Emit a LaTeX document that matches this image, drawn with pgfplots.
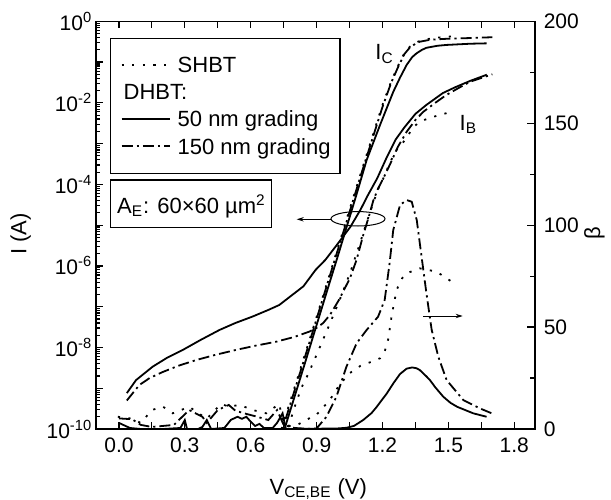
\documentclass[border=0pt]{standalone}
\usepackage{fontspec}
\setmainfont{Liberation Sans}
\usepackage{pgfplots}
\pgfplotsset{compat=1.18}
\usetikzlibrary{arrows.meta}
\xdef\minorlist{2e-10}
\foreach \e in {-10,...,-1}{\foreach \m in {2,...,9}{\xdef\minorlist{\minorlist,\m e\e}}}
\tikzset{
  dotsty/.style={line width=0.9pt, dash pattern=on 1.1pt off 4.2pt},
  ddsty/.style={line width=0.9pt, dash pattern=on 5.5pt off 2pt on 1.1pt off 2pt},
  solsty/.style={line width=0.9pt}
}
\begin{document}
\begin{tikzpicture}[font=\fontsize{11}{13}\selectfont]
\useasboundingbox (-48.15pt,-35pt) rectangle (257.35pt,214.5pt);
\begin{axis}[
  at={(0,0)}, anchor=south west,
  scale only axis, width=219.2pt, height=203.85pt,
  xmin=-0.103, xmax=1.893,
  ymode=log, ymin=1e-10, ymax=1,
  xtick={0,0.15,0.3,0.45,0.6,0.75,0.9,1.05,1.2,1.35,1.5,1.65,1.8},
  xticklabels={0.0,,0.3,,0.6,,0.9,,1.2,,1.5,,1.8},
  ytick={1e-10,1e-9,1e-8,1e-7,1e-6,1e-5,1e-4,1e-3,1e-2,1e-1,1},
  yticklabels={10\textsuperscript{-10},,10\textsuperscript{-8},,10\textsuperscript{-6},,10\textsuperscript{-4},,10\textsuperscript{-2},,10\textsuperscript{0}},
  minor ytick/.expand once=\minorlist,
  ytick pos=left,
  tick align=inside,
  major tick length=3.5pt, minor tick length=2pt,
  every tick/.style={black, line width=0.6pt},
  axis line style={line width=0.8pt},
  tick label style={font=\fontsize{10.5}{12}\selectfont},
  xticklabel style={yshift=-1pt},
  yticklabel style={xshift=1.5pt},
]
% SHBT I_C
\addplot[dotsty] coordinates {(0.725,5.62e-11)(0.74,1e-10)(0.80,1.05e-9)(0.85,7.59e-9)(0.90,5.62e-8)(0.95,4.17e-7)(1.0,3.16e-6)(1.05,2.40e-5)(1.10,1.78e-4)(1.15,1.26e-3)(1.20,8.91e-3)(1.24,3.39e-2)(1.272,8.32e-2)(1.30,0.166)(1.325,0.240)(1.35,0.295)(1.37,0.331)(1.42,0.380)(1.47,0.407)(1.52,0.427)};
% SHBT I_B
\addplot[dotsty] coordinates {(0.76,6.31e-11)(0.794,2.82e-10)(0.83,1e-9)(0.862,2.24e-9)(0.90,6.61e-9)(0.93,1.585e-8)(0.96,3.80e-8)(1.006,1.51e-7)(1.052,6.61e-7)(1.097,3.55e-6)(1.13,1.26e-5)(1.158,3.55e-5)(1.18,7.59e-5)(1.204,1.41e-4)(1.235,3.55e-4)(1.265,7.08e-4)(1.29,1e-3)(1.31,1.41e-3)(1.34,2.51e-3)(1.37,3.47e-3)(1.40,3.98e-3)(1.446,4.79e-3)(1.50,5.75e-3)};
% 50 nm I_C
\addplot[solsty] coordinates {(0.74,5.62e-11)(0.754,1e-10)(0.80,6.31e-10)(0.85,4.68e-9)(0.90,3.55e-8)(0.95,2.69e-7)(1.0,2.00e-6)(1.037,9.12e-6)(1.08,5.25e-5)(1.128,3.98e-4)(1.189,2.88e-3)(1.249,1.86e-2)(1.28,4.17e-2)(1.31,8.51e-2)(1.335,0.132)(1.355,0.164)(1.38,0.200)(1.40,0.224)(1.45,0.251)(1.49,0.263)(1.60,0.282)(1.674,0.288)};
% 50 nm I_B
\addplot[solsty] coordinates {(0.036,7.59e-10)(0.078,1.585e-9)(0.154,3.39e-9)(0.22,5.62e-9)(0.291,8.71e-9)(0.37,1.51e-8)(0.458,2.69e-8)(0.53,3.98e-8)(0.607,5.69e-8)(0.68,8.32e-8)(0.73,1.10e-7)(0.78,1.78e-7)(0.84,3.16e-7)(0.895,7.94e-7)(0.94,1.41e-6)(0.99,3.16e-6)(1.054,9.12e-6)(1.10,2.40e-5)(1.13,5.01e-5)(1.176,1.41e-4)(1.22,4.68e-4)(1.26,1.26e-3)(1.30,2.51e-3)(1.35,5.37e-3)(1.40,8.91e-3)(1.475,1.74e-2)(1.53,2.40e-2)(1.60,3.47e-2)(1.675,4.90e-2)};
% 150 nm I_C
\addplot[ddsty] coordinates {(0.73,5.62e-11)(0.745,1e-10)(0.80,8.91e-10)(0.85,6.61e-9)(0.90,5.01e-8)(0.95,3.80e-7)(1.0,2.82e-6)(1.05,2.09e-5)(1.10,1.585e-4)(1.15,1.12e-3)(1.20,7.94e-3)(1.24,3.16e-2)(1.272,7.76e-2)(1.30,0.158)(1.325,0.229)(1.35,0.282)(1.37,0.316)(1.42,0.355)(1.49,0.372)(1.60,0.389)(1.70,0.407)};
% 150 nm I_B
\addplot[ddsty] coordinates {(0.036,5.01e-10)(0.093,1.20e-9)(0.14,1.78e-9)(0.20,2.51e-9)(0.27,3.55e-9)(0.351,4.90e-9)(0.44,6.61e-9)(0.533,8.71e-9)(0.62,1.10e-8)(0.715,1.38e-8)(0.80,1.82e-8)(0.867,2.45e-8)(0.90,3.02e-8)(0.93,3.98e-8)(0.961,6.31e-8)(1.0,1.41e-7)(1.052,5.01e-7)(1.082,1.41e-6)(1.112,5.62e-6)(1.14,1.78e-5)(1.158,3.98e-5)(1.18,7.94e-5)(1.204,1.41e-4)(1.235,3.16e-4)(1.27,8.32e-4)(1.31,1.95e-3)(1.35,3.80e-3)(1.386,6.03e-3)(1.44,1e-2)(1.49,1.55e-2)(1.545,2.29e-2)(1.60,3.31e-2)(1.65,4.07e-2)(1.70,5.01e-2)};
\end{axis}
\begin{axis}[
  at={(0,0)}, anchor=south west,
  scale only axis, width=219.2pt, height=203.85pt,
  xmin=-0.103, xmax=1.893,
  ymin=0, ymax=200,
  axis x line=none, axis y line*=right,
  ytick={0,50,100,150,200},
  yticklabels={0,50,100,150,200},
  minor ytick={25,75,125,175},
  tick align=inside,
  major tick length=4pt, minor tick length=2.5pt,
  every tick/.style={black, line width=0.6pt},
  axis line style={line width=0.8pt},
  tick label style={font=\fontsize{10.5}{12}\selectfont},
  yticklabel style={xshift=1pt},
]
% SHBT beta
\addplot[dotsty] coordinates {(-0.005,6)(0.05,5.2)(0.10,3)(0.15,9.3)(0.20,11)(0.245,7.7)(0.32,10.9)(0.40,5)(0.465,12.3)(0.50,11)(0.55,11.8)(0.61,9.3)(0.67,7.7)(0.73,12.3)(0.745,4.4)(0.77,1.5)(0.80,1.5)(0.85,4)(0.87,5.5)(0.90,7)(0.96,14.2)(1.006,22)(1.052,27.5)(1.10,31)(1.15,33)(1.189,34.7)(1.21,38)(1.226,44)(1.241,55)(1.264,68.2)(1.29,74)(1.31,76.4)(1.37,78.8)(1.446,77.2)(1.515,72.3)};
% 50 nm beta
\addplot[solsty] coordinates {(0.0,3.0)(0.02,2.0)(0.05,0.5)(0.1,0)(0.2,0)(0.28,0.5)(0.30,4.4)(0.31,0)(0.36,0)(0.38,1)(0.40,4.4)(0.42,0)(0.48,0.5)(0.51,4.5)(0.54,6)(0.56,5)(0.58,6)(0.60,3.6)(0.62,1.5)(0.64,2.5)(0.66,0.5)(0.70,0.5)(0.72,3)(0.745,7.7)(0.76,0)(0.85,0.1)(0.95,0.2)(1.0,0.3)(1.036,0.6)(1.07,1.5)(1.112,4.4)(1.15,7.8)(1.174,10.9)(1.22,17.5)(1.25,22.5)(1.28,27)(1.31,29.6)(1.335,30.2)(1.355,29.8)(1.37,28.9)(1.40,25.8)(1.416,24)(1.44,20.5)(1.477,15.8)(1.51,12.8)(1.54,10.9)(1.613,7.7)(1.674,6)};
% 150 nm beta
\addplot[ddsty] coordinates {(0.0,5.2)(0.06,4.8)(0.1,2)(0.15,1)(0.25,2)(0.32,9.3)(0.38,6)(0.40,3)(0.45,9.3)(0.50,11.8)(0.53,9)(0.57,7.7)(0.63,6)(0.68,4.4)(0.72,9.3)(0.75,2)(0.80,0.5)(0.86,0.1)(0.90,0.3)(0.945,6)(0.99,15.8)(1.036,30.6)(1.082,42)(1.128,48.6)(1.18,55.1)(1.21,63.3)(1.232,81)(1.249,97.6)(1.28,109.9)(1.31,112.3)(1.333,111.5)(1.356,102.5)(1.378,84.5)(1.40,66.6)(1.424,48.6)(1.454,35.5)(1.492,24)(1.568,14.2)(1.644,10.1)(1.697,7.7)};
\end{axis}
% axis titles
\node[rotate=90, anchor=base] at (-34.9pt,97.5pt) {I (A)};
\node[rotate=90, anchor=base] at (251.85pt,98pt) {β};
\node[anchor=base] at (111pt,-32.5pt) {V\textsubscript{CE,BE} (V)};
% legend
\draw[line width=0.6pt] (7.2pt,127.85pt) rectangle (121.85pt,195.35pt);
\draw[dotsty] (12.7pt,182.15pt) -- (36.85pt,182.15pt);
\node[anchor=base west, inner sep=0] at (40.5pt,178.15pt) {SHBT};
\node[anchor=base west, inner sep=0] at (13.5pt,164.85pt) {DHBT:};
\draw[solsty] (12.7pt,155pt) -- (36.85pt,155pt);
\node[anchor=base west, inner sep=0] at (40.5pt,151.15pt) {50 nm grading};
\draw[ddsty] (12.7pt,141.65pt) -- (36.85pt,141.65pt);
\node[anchor=base west, inner sep=0] at (40.5pt,137.5pt) {150 nm grading};
% emitter area box
\draw[line width=0.6pt] (7.2pt,100.85pt) rectangle (87.7pt,124.5pt);
\node[anchor=base west, inner sep=0] at (10.2pt,107.85pt) {A\textsubscript{E}: 60×60 µm\textsuperscript{2}};
% annotations
\draw[line width=0.5pt] (130.85pt,105.1pt) ellipse [x radius=13.5pt, y radius=3.6pt];
\draw[line width=0.5pt, -{Stealth[length=3.5pt,width=2.2pt]}] (117.35pt,104.85pt) -- (100.2pt,104.85pt);
\draw[line width=0.5pt, -{Stealth[length=3.5pt,width=2.2pt]}] (163.5pt,56.5pt) -- (183.2pt,56.5pt);
\node[anchor=base west, inner sep=0] at (139.35pt,184.5pt) {I\textsubscript{C}};
\node[anchor=base west, inner sep=0] at (181.5pt,149.5pt) {I\textsubscript{B}};
\end{tikzpicture}
\end{document}
